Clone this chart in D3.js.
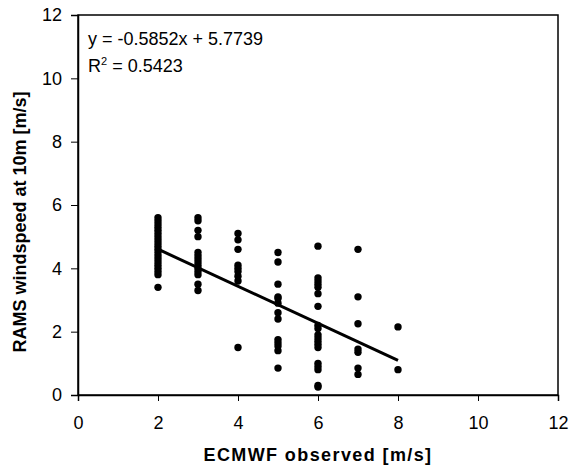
<!DOCTYPE html>
<html>
<head>
<meta charset="utf-8">
<script src="https://cdn.jsdelivr.net/npm/d3@7"></script>
<style>
  body { margin: 0; background: #fff; }
  svg text { font-family: "Liberation Sans", Arial, sans-serif; fill: #000; }
</style>
</head>
<body>
<svg id="drawing_region"></svg>
<script>
// observed ECMWF values (x) and RAMS values read at each of them (y)
const ecmwfObs = [2, 3, 4, 5, 6, 7, 8];
const ramsAt2 = [5.6, 5.5, 5.4, 5.3, 5.2, 5.1, 5.0, 4.9, 4.8, 4.7, 4.6, 4.5, 4.4, 4.3, 4.2, 4.1, 4.0, 3.9, 3.8, 3.4];
const ramsAt3 = [5.6, 5.5, 5.2, 5.0, 4.5, 4.4, 4.3, 4.2, 4.1, 4.0, 3.9, 3.8, 3.5, 3.3];
const ramsAt4 = [5.1, 4.9, 4.6, 4.1, 4.0, 3.9, 3.75, 3.6, 1.5];
const ramsAt5 = [4.5, 4.2, 3.5, 3.1, 3.05, 2.9, 2.6, 2.4, 1.75, 1.65, 1.55, 1.4, 0.85];
const ramsAt6 = [4.7, 3.7, 3.6, 3.5, 3.4, 3.2, 2.8, 2.2, 2.1, 1.9, 1.8, 1.7, 1.6, 1.5, 1.0, 0.9, 0.8, 0.3, 0.25];
const ramsAt7 = [4.6, 3.1, 2.25, 1.45, 1.35, 0.85, 0.65];
const ramsAt8 = [2.15, 0.8];
const ramsColumns = [ramsAt2, ramsAt3, ramsAt4, ramsAt5, ramsAt6, ramsAt7, ramsAt8];

// linear trend shown on chart
const slope = -0.5852;
const intercept = 5.7739;
const fitRange = [2, 8];
const equationLines = ["y = -0.5852x + 5.7739", "R", "2", " = 0.5423"];

const xTicks = [0, 2, 4, 6, 8, 10, 12];
const yTicks = [0, 2, 4, 6, 8, 10, 12];

var config = {
    parent: '#drawing_region',
    width: 569,
    height: 465,
    margin: {top: 15, right: 11, bottom: 70, left: 78}
};

const points = [];
ramsColumns.forEach((col, i) => {
    col.forEach(v => points.push({x: ecmwfObs[i], y: v}));
});

const svg = d3.select(config.parent)
    .attr('width', config.width)
    .attr('height', config.height);

const innerW = config.width - config.margin.left - config.margin.right;
const innerH = config.height - config.margin.top - config.margin.bottom;

const chart = svg.append('g')
    .attr('transform', `translate(${config.margin.left}, ${config.margin.top})`);

const xScale = d3.scaleLinear().domain([0, 12]).range([0, innerW]);
const yScale = d3.scaleLinear().domain([0, 12]).range([innerH, 0]);

// frame
chart.append('rect')
    .attr('x', 0).attr('y', 0)
    .attr('width', innerW).attr('height', innerH)
    .attr('fill', 'none')
    .attr('stroke', '#000')
    .attr('stroke-width', 1.5);

const xAxis = chart.append('g')
    .attr('transform', `translate(0, ${innerH})`)
    .call(d3.axisBottom(xScale).tickValues(xTicks).tickSize(6).tickPadding(15));

const yAxis = chart.append('g')
    .call(d3.axisLeft(yScale).tickValues(yTicks).tickSize(7).tickPadding(9));

[xAxis, yAxis].forEach(a => {
    a.select('.domain').attr('stroke', '#000').attr('stroke-width', 1.5);
    a.selectAll('.tick line').attr('stroke', '#000').attr('stroke-width', 1);
    a.selectAll('.tick text')
        .attr('font-size', 18)
        .attr('font-family', '"Liberation Sans", Arial, sans-serif')
        .attr('fill', '#000');
});

// points
chart.selectAll('circle.pt')
    .data(points)
    .enter()
    .append('circle')
    .attr('class', 'pt')
    .attr('cx', d => xScale(d.x))
    .attr('cy', d => yScale(d.y))
    .attr('r', 3.7)
    .attr('fill', '#000');

// trend line
chart.append('line')
    .attr('x1', xScale(fitRange[0]))
    .attr('y1', yScale(slope * fitRange[0] + intercept))
    .attr('x2', xScale(fitRange[1]))
    .attr('y2', yScale(slope * fitRange[1] + intercept))
    .attr('stroke', '#000')
    .attr('stroke-width', 3);

// equation
chart.append('text')
    .attr('x', 10).attr('y', 30)
    .attr('font-size', 18)
    .text(equationLines[0]);

const r2 = chart.append('text')
    .attr('x', 10).attr('y', 57)
    .attr('font-size', 18);
r2.append('tspan').text(equationLines[1]);
r2.append('tspan').attr('font-size', 11).attr('dy', -7).text(equationLines[2]);
r2.append('tspan').attr('dy', 7).text(equationLines[3]);

// axis titles
svg.append('text')
    .attr('x', config.margin.left + innerW / 2)
    .attr('y', 461)
    .attr('text-anchor', 'middle')
    .attr('font-size', 18)
    .attr('font-weight', 'bold')
    .attr('letter-spacing', 1.4)
    .text('ECMWF observed [m/s]');

svg.append('text')
    .attr('transform', `translate(26, ${config.margin.top + innerH / 2 + 17}) rotate(-90)`)
    .attr('text-anchor', 'middle')
    .attr('font-size', 18)
    .attr('font-weight', 'bold')
    .text('RAMS windspeed at 10m [m/s]');
</script>
</body>
</html>
